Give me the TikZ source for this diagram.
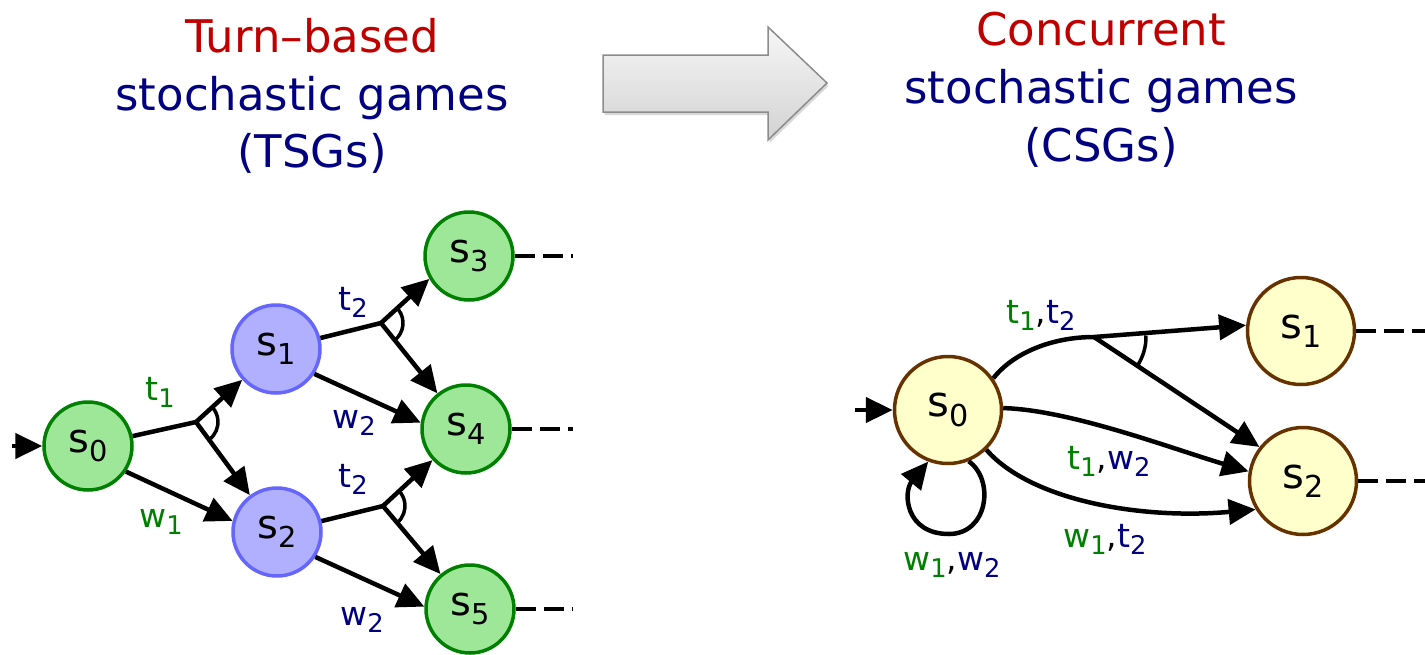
\documentclass[tikz,border=0pt]{standalone}
\usepackage{fontspec}
\usepackage{graphicx}
\setmainfont{DejaVu Sans}
\usetikzlibrary{arrows.meta,calc,angles,shadows}
\definecolor{titlered}{RGB}{192,0,0}
\definecolor{navy}{RGB}{0,0,128}
\definecolor{pgreen}{RGB}{0,128,0}
\definecolor{gfill}{RGB}{158,230,152}
\definecolor{bfill}{RGB}{176,176,255}
\definecolor{bdraw}{RGB}{102,102,255}
\definecolor{yfill}{RGB}{255,255,204}
\definecolor{ydraw}{RGB}{102,51,0}
\definecolor{arrowedge}{RGB}{140,140,140}
\newcommand\pone[1]{\textcolor{pgreen}{#1}}
\newcommand\ptwo[1]{\textcolor{navy}{#1}}
\newcommand\ix[1]{\raisebox{-0.22em}{\scalebox{0.72}{#1}}}
\newcommand\lx[1]{\raisebox{-0.24em}{\scalebox{0.78}{#1}}}
\begin{document}
\begin{tikzpicture}[x=1pt,y=1pt,
  gstate/.style={circle, draw=pgreen, fill=gfill, line width=3.5pt, minimum size=88pt, inner sep=0pt, font=\fontsize{40}{44}\selectfont},
  bstate/.style={gstate, draw=bdraw, fill=bfill},
  ystate/.style={circle, draw=ydraw, fill=yfill, line width=3.5pt, minimum size=107pt, inner sep=0pt, font=\fontsize{42}{46}\selectfont},
  edge/.style={line width=4.5pt, -{Triangle[length=27pt,width=25pt]}},
  plain/.style={line width=4.5pt},
  more/.style={line width=4.5pt, dash pattern=on 20pt off 8pt},
  lbl/.style={anchor=base, inner sep=0pt, font=\fontsize{33}{36}\selectfont},
  ttl/.style={anchor=base, inner sep=0pt, font=\fontsize{45}{50}\selectfont},
  choice/.style={draw, line width=3.5pt}
]
\useasboundingbox (0,0) rectangle (1425,-654);

% titles
\node[ttl, text=titlered] (tl1) at (312,-52) {Turn–based};
\node[ttl, text=navy] (tl2) at (312,-110) {stochastic games};
\node[ttl, text=navy] (tl3) at (312,-167) {(TSGs)};
\node[ttl, text=titlered] (tr1) at (1101,-45) {Concurrent};
\node[ttl, text=navy] (tr2) at (1101,-103) {stochastic games};
\node[ttl, text=navy] (tr3) at (1101,-161) {(CSGs)};

% big arrow
\draw[draw=arrowedge, line width=1.5pt, top color=gray!7, bottom color=gray!35,
      drop shadow={opacity=0.3, shadow xshift=1.5pt, shadow yshift=-3pt}]
  (603,-55) -- (768,-55) -- (768,-27) -- (827,-83) -- (768,-140) -- (768,-112) -- (603,-112) -- cycle;

% ---------- TSG ----------
\node[gstate] (s0) at (88,-446) {s\ix{0}};
\node[bstate] (s1) at (276,-349) {s\ix{1}};
\node[bstate] (s2) at (277,-532) {s\ix{2}};
\node[gstate] (s3) at (469,-256) {s\ix{3}};
\node[gstate] (s4) at (466,-429) {s\ix{4}};
\node[gstate] (s5) at (470,-609) {s\ix{5}};

\coordinate (i0) at (12,-446);
\coordinate (b1) at (196,-422);
\coordinate (b2) at (381,-323);
\coordinate (b3) at (383,-506);
\coordinate (e3) at (573,-256);
\coordinate (e4) at (573,-429);
\coordinate (e5) at (573,-609);

\draw[edge] (i0) -- (s0.west);
\draw[plain] (s0) -- (b1);
\draw[edge] (b1) -- (s1);
\draw[edge] (b1) -- (s2);
\pic[choice, angle radius=22pt] {angle = s2--b1--s1};
\draw[edge] (s0.-34) -- (s2.166);

\draw[plain] (s1) -- (b2);
\draw[edge] (b2) -- (s3.210);
\draw[edge] (b2) -- (s4);
\pic[choice, angle radius=22pt] {angle = s4--b2--s3};
\draw[edge] (s1.-33) -- (s4.172);

\draw[plain] (s2) -- (b3);
\draw[edge] (b3) -- (s4);
\draw[edge] (b3) -- (s5);
\pic[choice, angle radius=22pt] {angle = s5--b3--s4};
\draw[edge] (s2.-33) -- (s5.177);

\draw[more] (s3.east) -- (e3);
\draw[more] (s4.east) -- (e4);
\draw[more] (s5.east) -- (e5);

\node[lbl] (l1) at (160,-400) {\pone{t\lx{1}}};
\node[lbl] (l2) at (161,-527) {\pone{w\lx{1}}};
\node[lbl] (l3) at (353,-310) {\ptwo{t\lx{2}}};
\node[lbl] (l4) at (354,-428) {\ptwo{w\lx{2}}};
\node[lbl] (l5) at (353,-487) {\ptwo{t\lx{2}}};
\node[lbl] (l6) at (362,-625) {\ptwo{w\lx{2}}};

% ---------- CSG ----------
\node[ystate] (c0) at (948,-410) {s\ix{0}};
\node[ystate] (c1) at (1301,-331) {s\ix{1}};
\node[ystate] (c2) at (1303,-481) {s\ix{2}};

\coordinate (ci) at (855,-410);
\coordinate (p) at (1094,-337);
\coordinate (f1) at (1440,-331);
\coordinate (f2) at (1440,-481);

\draw[edge] (ci) -- (c0.west);
\draw[plain] (c0.35) .. controls (1013,-353) and (1052,-337) .. (p);
\draw[edge] (p) -- (c1.174);
\draw[edge] (p) -- (c2.142);
\pic[choice, angle radius=52pt] {angle = c2--p--c1};
\draw[edge] (c0.2) .. controls (1070,-410) and (1170,-448) .. (c2.170);
\draw[edge] (c0.-46) .. controls (1030,-500) and (1140,-520) .. (c2.211);
\draw[edge] (c0.-68) .. controls (995,-480) and (988,-534) .. (949,-534)
   .. controls (905,-534) and (903,-492) .. (c0.-111);

\draw[more] (c1.east) -- (f1);
\draw[more] (c2.east) -- (f2);

\node[lbl] (m1) at (1041,-323) {\pone{t\lx{1}},\ptwo{t\lx{2}}};
\node[lbl] (m2) at (1109,-469) {\pone{t\lx{1}},\ptwo{w\lx{2}}};
\node[lbl] (m3) at (1105,-547) {\pone{w\lx{1}},\ptwo{t\lx{2}}};
\node[lbl] (m4) at (952,-570) {\pone{w\lx{1}},\ptwo{w\lx{2}}};
\end{tikzpicture}
\end{document}
